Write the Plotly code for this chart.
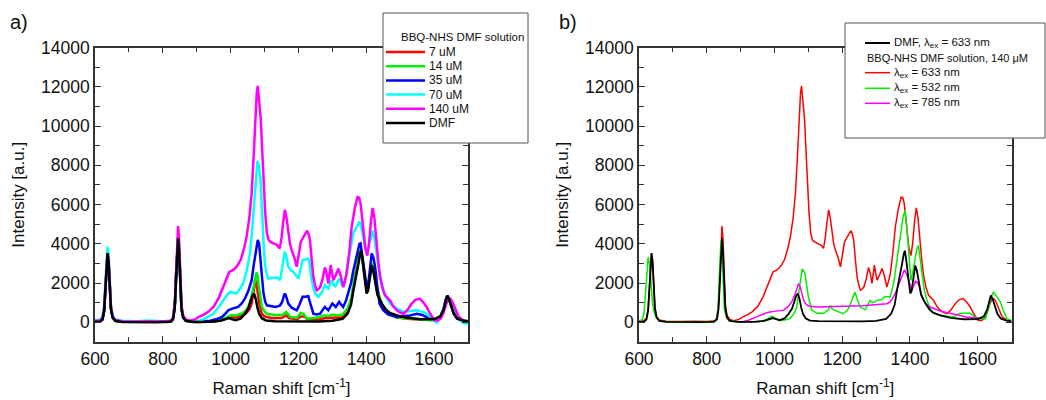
import plotly.graph_objects as go

W, H = 1046, 400

# ---------------- data (Raman shift [cm-1], intensity [a.u.]) ----------------
dmf = [(600,30),(615,40),(622,150),(627,600),(631,1800),(634,3000),(637,3530),(640,3100),(643,1800),(647,700),(652,250),(660,80),(680,20),(720,10),(780,10),(820,30),(830,150),(835,700),(839,2200),(842,3700),(845,4280),(848,3600),(851,2000),(855,700),(860,250),(868,80),(890,20),(940,30),(970,80),(985,170),(995,220),(1005,160),(1015,110),(1030,200),(1042,440),(1052,700),(1058,1000),(1064,1350),(1069,1470),(1074,1200),(1079,750),(1085,400),(1093,200),(1105,90),(1130,60),(1200,40),(1260,50),(1300,80),(1330,180),(1345,450),(1355,900),(1362,1640),(1370,2300),(1377,3000),(1382,3500),(1385,3650),(1389,3200),(1395,2200),(1401,1470),(1405,1600),(1410,2300),(1416,2900),(1421,2600),(1427,1900),(1433,1400),(1446,955),(1458,650),(1470,480),(1490,350),(1520,230),(1560,160),(1600,170),(1618,300),(1628,650),(1634,1100),(1639,1370),(1644,1200),(1650,850),(1658,450),(1668,200),(1685,90),(1700,60)]

c140 = [(600,80),(615,100),(622,200),(627,700),(631,1800),(634,3000),(637,3500),(640,3200),(643,2000),(647,800),(652,300),(660,120),(680,60),(720,40),(760,60),(800,40),(825,80),(831,300),(836,1200),(840,3000),(843,4500),(845,4900),(848,4300),(851,2500),(855,900),(860,350),(868,150),(880,80),(895,150),(905,270),(920,380),(935,550),(950,800),(965,1250),(978,1800),(988,2250),(996,2570),(1005,2650),(1013,2740),(1022,2950),(1030,3200),(1040,3800),(1047,4360),(1055,5300),(1062,6580),(1068,8500),(1072,10330),(1077,11700),(1080,12040),(1084,11400),(1089,10330),(1093,8800),(1097,7260),(1102,5600),(1107,4540),(1112,4200),(1118,4100),(1128,4000),(1136,3950),(1145,3770),(1150,4300),(1155,5100),(1160,5730),(1165,5300),(1170,4540),(1175,4000),(1180,3680),(1188,3300),(1195,2830),(1200,3400),(1207,4110),(1215,4350),(1222,4600),(1226,4670),(1230,4500),(1234,4200),(1239,3200),(1244,2320),(1249,1900),(1254,1640),(1259,1700),(1264,1800),(1271,2200),(1278,2800),(1283,2500),(1288,1980),(1292,2500),(1295,2920),(1299,2500),(1303,2150),(1310,2400),(1318,2740),(1325,2350),(1332,1800),(1337,2100),(1342,2470),(1350,3600),(1357,4870),(1366,5800),(1374,6380),(1379,6350),(1383,6080),(1388,5300),(1392,4540),(1397,3800),(1403,3400),(1408,4000),(1414,5200),(1419,5830),(1424,5300),(1431,3850),(1436,3000),(1441,2320),(1448,1750),(1455,1380),(1470,1125),(1480,800),(1490,614),(1500,500),(1510,440),(1522,650),(1534,955),(1545,1150),(1557,1210),(1567,1050),(1578,785),(1590,400),(1600,120),(1610,90),(1620,200),(1628,500),(1635,900),(1642,1150),(1648,1200),(1654,1050),(1662,700),(1672,300),(1686,100),(1700,60)]

c70 = [(600,100),(615,150),(622,300),(627,900),(631,2200),(634,3400),(637,3850),(640,3500),(643,2200),(647,900),(652,350),(660,150),(680,80),(720,60),(760,100),(800,60),(825,80),(831,300),(836,1100),(840,2800),(843,4100),(845,4400),(848,3900),(851,2300),(855,800),(860,300),(868,120),(880,60),(900,60),(920,150),(935,280),(949,440),(965,800),(978,1125),(990,1400),(998,1550),(1008,1520),(1017,1470),(1027,1700),(1037,1980),(1047,2600),(1057,3510),(1063,4600),(1069,6070),(1074,7300),(1079,8230),(1083,8000),(1088,7260),(1091,6200),(1094,4870),(1098,3800),(1101,3000),(1106,2500),(1111,2230),(1120,2250),(1130,2300),(1136,2300),(1146,2150),(1152,2800),(1156,3300),(1160,3600),(1165,3300),(1170,2830),(1178,2650),(1185,2570),(1193,2400),(1200,2230),(1206,2700),(1212,3170),(1220,3200),(1229,3250),(1233,3000),(1236,2490),(1242,1900),(1249,1470),(1259,1300),(1268,1500),(1278,1900),(1283,1800),(1288,1720),(1298,2150),(1303,1950),(1308,1800),(1314,2000),(1320,2230),(1326,2000),(1332,1800),(1340,2400),(1347,3170),(1355,3900),(1362,4540),(1372,4900),(1380,5130),(1386,4800),(1392,4200),(1397,3800),(1402,3510),(1410,4100),(1419,4670),(1425,4200),(1432,3170),(1440,2300),(1450,1640),(1460,1250),(1470,955),(1490,700),(1510,530),(1530,560),(1549,614),(1565,550),(1578,440),(1592,200),(1608,0),(1620,300),(1630,800),(1637,1130),(1645,1150),(1652,1040),(1660,700),(1668,350),(1676,100),(1688,-30),(1700,-70)]

c35 = [(600,40),(615,60),(622,150),(627,600),(631,1800),(634,3000),(637,3500),(640,3100),(643,1800),(647,700),(652,250),(660,80),(680,30),(760,30),(825,50),(831,250),(836,1000),(840,2800),(843,3900),(845,4200),(848,3600),(851,2100),(855,700),(860,250),(868,80),(900,30),(940,80),(960,170),(974,270),(985,450),(993,614),(1005,700),(1015,750),(1022,785),(1032,950),(1042,1210),(1052,1600),(1062,2150),(1068,2900),(1074,3680),(1080,4200),(1084,4000),(1087,3510),(1092,2400),(1097,1470),(1102,1050),(1107,870),(1120,820),(1132,785),(1145,850),(1152,1040),(1157,1350),(1160,1470),(1165,1250),(1170,955),(1180,750),(1195,614),(1203,900),(1212,1300),(1220,1300),(1229,1330),(1236,900),(1244,440),(1254,400),(1264,440),(1272,650),(1278,785),(1288,614),(1294,800),(1300,955),(1310,785),(1320,1040),(1326,900),(1332,785),(1340,1100),(1347,1470),(1355,2000),(1362,2650),(1372,3500),(1380,4000),(1383,4025),(1388,3400),(1392,2830),(1398,2200),(1404,1640),(1410,2600),(1416,3510),(1421,3300),(1426,2830),(1432,1900),(1439,955),(1450,614),(1465,400),(1490,270),(1510,300),(1529,350),(1549,440),(1565,380),(1578,270),(1595,150),(1608,100),(1620,300),(1628,700),(1634,1150),(1639,1350),(1644,1200),(1650,850),(1658,450),(1668,200),(1685,70),(1700,40)]

c14 = [(600,40),(615,60),(622,150),(627,600),(631,1800),(634,3000),(637,3500),(640,3100),(643,1800),(647,700),(652,250),(660,80),(680,30),(760,30),(825,50),(831,250),(836,1000),(840,2800),(843,3900),(845,4200),(848,3600),(851,2100),(855,700),(860,250),(868,80),(900,20),(950,50),(975,150),(993,300),(1003,370),(1015,350),(1032,440),(1045,600),(1052,785),(1060,1200),(1066,1600),(1070,1980),(1076,2540),(1079,2400),(1082,1980),(1087,1300),(1092,785),(1100,550),(1107,440),(1130,380),(1152,370),(1158,450),(1164,530),(1170,400),(1176,270),(1196,240),(1206,480),(1215,440),(1220,300),(1225,190),(1245,220),(1262,270),(1275,360),(1290,330),(1300,400),(1315,350),(1330,400),(1345,700),(1355,1200),(1362,1900),(1372,2900),(1378,3500),(1384,3700),(1389,3200),(1395,2400),(1402,1700),(1409,2300),(1416,3000),(1421,2800),(1427,2200),(1431,1800),(1446,900),(1465,450),(1490,250),(1530,200),(1560,150),(1600,100),(1618,250),(1628,650),(1634,1100),(1639,1320),(1644,1200),(1650,850),(1658,450),(1668,200),(1685,60),(1700,40)]

c7 = [(600,40),(615,60),(622,150),(627,600),(631,1800),(634,3000),(637,3500),(640,3100),(643,1800),(647,700),(652,250),(660,80),(680,30),(760,30),(825,50),(831,250),(836,1000),(840,2800),(843,3900),(845,4200),(848,3600),(851,2100),(855,700),(860,250),(868,80),(900,20),(950,40),(975,120),(993,250),(1003,280),(1015,250),(1032,330),(1045,450),(1055,650),(1062,955),(1068,1600),(1072,2150),(1076,2000),(1080,1500),(1085,900),(1092,440),(1100,300),(1120,220),(1150,220),(1158,300),(1164,360),(1172,220),(1196,160),(1206,300),(1218,300),(1226,160),(1260,150),(1280,220),(1300,230),(1330,260),(1345,600),(1355,1100),(1362,1750),(1372,2800),(1378,3400),(1384,3650),(1389,3150),(1395,2300),(1402,1600),(1409,2200),(1416,2900),(1421,2700),(1427,2000),(1433,1500),(1446,900),(1465,450),(1490,250),(1530,170),(1560,150),(1600,120),(1618,250),(1628,650),(1634,1100),(1639,1330),(1644,1200),(1650,850),(1658,450),(1668,200),(1685,60),(1700,40)]

ex532 = [(600,50),(610,150),(615,500),(619,1400),(623,2600),(627,3320),(631,3000),(635,2000),(640,1000),(645,500),(652,200),(665,60),(700,20),(780,20),(825,40),(830,200),(834,900),(837,2300),(840,3800),(842,4170),(845,3600),(848,2000),(852,700),(858,250),(866,80),(900,20),(960,40),(980,180),(992,320),(1004,200),(1016,100),(1030,120),(1046,200),(1058,450),(1066,780),(1074,1800),(1082,2720),(1090,2500),(1095,1900),(1100,1300),(1110,640),(1125,460),(1145,460),(1160,640),(1164,865),(1170,700),(1179,610),(1192,500),(1203,440),(1215,600),(1223,865),(1232,1300),(1238,1540),(1244,1200),(1253,780),(1268,640),(1275,900),(1282,1120),(1290,1000),(1297,1040),(1302,1120),(1315,1150),(1327,1320),(1342,1290),(1352,2000),(1361,2990),(1372,4400),(1380,5400),(1386,5700),(1391,4800),(1396,3860),(1403,2140),(1408,2500),(1413,2990),(1420,3700),(1425,3920),(1430,3300),(1435,2480),(1442,1700),(1450,1120),(1465,530),(1489,360),(1510,300),(1529,270),(1540,400),(1548,460),(1565,470),(1578,460),(1590,300),(1603,190),(1623,190),(1632,700),(1640,1300),(1647,1540),(1655,1350),(1667,1040),(1676,600),(1686,190),(1700,100)]

ex785 = [(898,0),(910,40),(925,120),(940,230),(958,370),(975,480),(997,560),(1015,590),(1026,610),(1040,800),(1051,1040),(1060,1400),(1066,1730),(1071,1970),(1076,1800),(1080,1490),(1085,1200),(1090,990),(1097,870),(1105,820),(1125,780),(1154,800),(1193,800),(1230,830),(1260,850),(1292,900),(1320,920),(1332,950),(1342,1050),(1351,1290),(1362,1700),(1371,2140),(1378,2500),(1384,2680),(1390,2450),(1396,2140),(1401,1850),(1406,1630),(1411,1850),(1417,2090),(1425,1970),(1432,1550),(1440,1120),(1450,900),(1460,780),(1489,580),(1529,440),(1568,270),(1598,220),(1610,200)]

x_ticks = [600, 800, 1000, 1200, 1400, 1600]
y_ticks = [0, 2000, 4000, 6000, 8000, 10000, 12000, 14000]

legend_a_title = "BBQ-NHS DMF solution"
legend_a = [("7 uM", "#ff0000"), ("14 uM", "#00ee00"), ("35 uM", "#0000ff"),
            ("70 uM", "#00ffff"), ("140 uM", "#ff00ff"), ("DMF", "#000000")]

# ---------------- figure ----------------
def px(x):
    return x / W

def py(y):
    return 1 - y / H

FONT = "Arial, Liberation Sans, sans-serif"
fig = go.Figure()

def add(series, color, width, xa, ya, name):
    fig.add_trace(go.Scatter(
        x=[p[0] for p in series], y=[p[1] for p in series], mode="lines",
        line=dict(color=color, width=width), name=name, showlegend=False,
        xaxis=xa, yaxis=ya, hoverinfo="skip"))

# panel a
add(c7, "#ff0000", 2.5, "x", "y", "7 uM")
add(c14, "#00ee00", 2.5, "x", "y", "14 uM")
add(c35, "#0000ff", 2.5, "x", "y", "35 uM")
add(c70, "#00ffff", 2.5, "x", "y", "70 uM")
add(c140, "#ff00ff", 2.5, "x", "y", "140 uM")
add(dmf, "#000000", 2.5, "x", "y", "DMF")
# panel b
add(c140, "#ff0000", 1.5, "x2", "y2", "633 nm")
add(ex532, "#00ee00", 1.5, "x2", "y2", "532 nm")
add(ex785, "#ff00ff", 1.5, "x2", "y2", "785 nm")
add(dmf, "#000000", 1.8, "x2", "y2", "DMF 633 nm")

ydom = [py(342), py(47.5)]
axis_common = dict(
    showline=True, linecolor="#333333", linewidth=1.5, mirror="allticks",
    ticks="inside", ticklen=6, tickwidth=1.2, tickcolor="#333333",
    showgrid=False, zeroline=False, automargin=False,
    tickfont=dict(family=FONT, size=17.5, color="#111111"),
)
xcommon = dict(axis_common, range=[600, 1700], tickvals=x_ticks,
               minor=dict(dtick=100, tick0=600, ticks="inside", ticklen=5, tickcolor="#333333", showgrid=False),
               title=dict(text="Raman shift [cm<sup>-1</sup>]", font=dict(family=FONT, size=17, color="#111111"), standoff=14))
ycommon = dict(axis_common, range=[-1000, 14000], tickvals=y_ticks, tickformat="d",
               minor=dict(dtick=1000, tick0=0, ticks="inside", ticklen=5, tickcolor="#333333", showgrid=False),
               title=dict(text="Intensity [a.u.]", font=dict(family=FONT, size=17, color="#111111"), standoff=12))

fig.update_layout(
    width=W, height=H, margin=dict(l=0, r=0, t=0, b=0),
    paper_bgcolor="white", plot_bgcolor="white", showlegend=False,
    xaxis=dict(xcommon, domain=[px(95), px(468)], anchor="y"),
    yaxis=dict(ycommon, domain=ydom, anchor="x"),
    xaxis2=dict(xcommon, domain=[px(639), px(1011.5)], anchor="y2"),
    yaxis2=dict(ycommon, domain=ydom, anchor="x2"),
)

shapes = []
ann = []
# panel labels
ann.append(dict(x=px(8), y=py(22), text="a)", showarrow=False, xanchor="left", yanchor="middle",
                font=dict(family=FONT, size=20, color="#111111"), xref="paper", yref="paper"))
ann.append(dict(x=px(557), y=py(22), text="b)", showarrow=False, xanchor="left", yanchor="middle",
                font=dict(family=FONT, size=20, color="#111111"), xref="paper", yref="paper"))

# legend a
shapes.append(dict(type="rect", xref="paper", yref="paper", x0=px(383), x1=px(528), y0=py(143), y1=py(13),
                   line=dict(color="#555555", width=1), fillcolor="white", layer="above"))
ann.append(dict(x=px(399), y=py(37), text=legend_a_title, showarrow=False, xanchor="left", yanchor="middle",
                font=dict(family=FONT, size=11.5, color="#111111"), xref="paper", yref="paper"))
for i, (label, col) in enumerate(legend_a):
    yy = 52 + i * 14.2
    shapes.append(dict(type="line", xref="paper", yref="paper", x0=px(386), x1=px(425), y0=py(yy), y1=py(yy),
                       line=dict(color=col, width=2.5), layer="above"))
    ann.append(dict(x=px(427), y=py(yy), text=label, showarrow=False, xanchor="left", yanchor="middle",
                    font=dict(family=FONT, size=12, color="#111111"), xref="paper", yref="paper"))

# legend b
shapes.append(dict(type="rect", xref="paper", yref="paper", x0=px(845), x1=px(1045), y0=py(138), y1=py(23),
                   line=dict(color="#555555", width=1), fillcolor="white", layer="above"))
legend_b = [("DMF, λ<sub>ex</sub> = 633 nm", "#000000", 43),
            ("λ<sub>ex</sub> = 633 nm", "#ff0000", 72.7),
            ("λ<sub>ex</sub> = 532 nm", "#00ee00", 88.3),
            ("λ<sub>ex</sub> = 785 nm", "#ff00ff", 103.3)]
for label, col, yy in legend_b:
    shapes.append(dict(type="line", xref="paper", yref="paper", x0=px(865), x1=px(890), y0=py(yy), y1=py(yy),
                       line=dict(color=col, width=2 if col == "#000000" else 1.5), layer="above"))
    ann.append(dict(x=px(892), y=py(yy), text=label, showarrow=False, xanchor="left", yanchor="middle",
                    font=dict(family=FONT, size=11.5, color="#111111"), xref="paper", yref="paper"))
ann.append(dict(x=px(865), y=py(58), text="BBQ-NHS DMF solution, 140 μM", showarrow=False, xanchor="left",
                yanchor="middle", font=dict(family=FONT, size=11, color="#111111"), xref="paper", yref="paper"))

fig.update_layout(shapes=shapes, annotations=ann)
fig.write_html("out.html", config={"displayModeBar": False},
               post_script="document.body.style.margin='0';document.body.style.padding='0';")
